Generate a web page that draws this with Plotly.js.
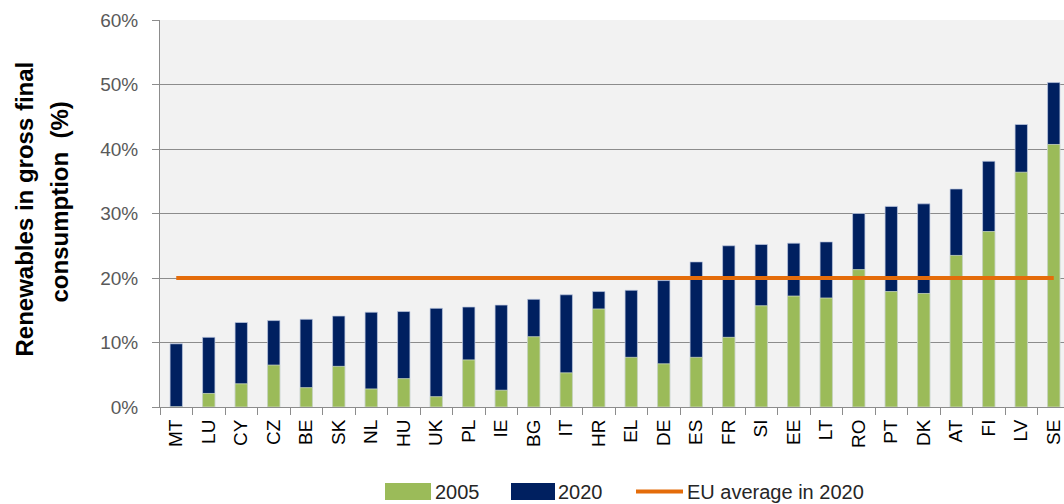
<!DOCTYPE html>
<html>
<head>
<meta charset="utf-8">
<script src="https://cdn.plot.ly/plotly-3.0.1.min.js"></script>
<style>html,body{margin:0;padding:0;background:#fff;}#chart{width:1064px;height:504px;}</style>
</head>
<body>
<div id="chart"></div>
<script>
const countries = ['MT','LU','CY','CZ','BE','SK','NL','HU','UK','PL','IE','BG','IT','HR','EL','DE','ES','FR','SI','EE','LT','RO','PT','DK','AT','FI','LV','SE'];
const share2005 = [0, 2.1, 3.6, 6.5, 3.0, 6.3, 2.8, 4.4, 1.6, 7.3, 2.6, 10.9, 5.3, 15.2, 7.7, 6.7, 7.7, 10.8, 15.7, 17.2, 16.9, 21.3, 17.9, 17.6, 23.5, 27.2, 36.4, 40.7];
const share2020 = [9.8, 10.8, 13.1, 13.4, 13.6, 14.1, 14.7, 14.8, 15.3, 15.5, 15.8, 16.7, 17.4, 17.9, 18.1, 19.6, 22.5, 25.0, 25.2, 25.4, 25.6, 30.0, 31.1, 31.5, 33.8, 38.1, 43.8, 50.3];
const euAverage2020 = 20;
const yTicks = [0, 10, 20, 30, 40, 50, 60];
const legendLabels = ['2005', '2020', 'EU average in 2020'];
const yTitleLines = ['Renewables in gross final', 'consumption&nbsp; (%)'];

const GREEN = '#9BBB59', NAVY = '#002060', ORANGE = '#E46C0A';
const FONT = '"Liberation Sans", Arial, sans-serif';

const traces = [
  {type: 'bar', name: legendLabels[1], x: countries, y: share2020, width: 0.38,
   marker: {color: NAVY, line: {color: 'rgba(190,200,225,0.9)', width: 0.8}}, showlegend: false},
  {type: 'bar', name: legendLabels[0], x: countries, y: share2005, width: 0.38,
   marker: {color: GREEN, line: {color: 'rgba(215,225,200,0.9)', width: 0.8}}, showlegend: false},
  {type: 'scatter', mode: 'lines', name: legendLabels[2], x: countries,
   y: countries.map(() => euAverage2020),
   line: {color: ORANGE, width: 4}, showlegend: false}
];

// helpers for paper coordinates (plot area: left 160, width 904, top 20, height 387)
const L = 160, W = 904, T = 20, H = 387;
const px = v => (v - L) / W;
const py = v => (T + H - v) / H;

const shapes = [
  {type: 'rect', xref: 'paper', yref: 'paper', x0: px(385), x1: px(431), y0: py(500), y1: py(483), fillcolor: GREEN, line: {width: 0}},
  {type: 'rect', xref: 'paper', yref: 'paper', x0: px(511), x1: px(555), y0: py(500), y1: py(483), fillcolor: NAVY, line: {width: 0}},
  {type: 'line', xref: 'paper', yref: 'paper', x0: px(636), x1: px(683), y0: py(491.5), y1: py(491.5), line: {color: ORANGE, width: 4}}
];

const annotations = [
  {xref: 'paper', yref: 'paper', x: px(433), y: py(491.5), xanchor: 'left', yanchor: 'middle', showarrow: false, text: legendLabels[0], font: {family: FONT, size: 20, color: '#262626'}},
  {xref: 'paper', yref: 'paper', x: px(556), y: py(491.5), xanchor: 'left', yanchor: 'middle', showarrow: false, text: legendLabels[1], font: {family: FONT, size: 20, color: '#262626'}},
  {xref: 'paper', yref: 'paper', x: px(685), y: py(491.5), xanchor: 'left', yanchor: 'middle', showarrow: false, text: legendLabels[2], font: {family: FONT, size: 20, color: '#262626'}},
  {xref: 'paper', yref: 'paper', x: px(23.5), y: py(209), xanchor: 'center', yanchor: 'middle', textangle: -90, showarrow: false, text: '<b>' + yTitleLines[0] + '</b>', font: {family: FONT, size: 24, color: '#000'}},
  {xref: 'paper', yref: 'paper', x: px(59), y: py(202.5), xanchor: 'center', yanchor: 'middle', textangle: -90, showarrow: false, text: '<b>' + yTitleLines[1] + '</b>', font: {family: FONT, size: 24, color: '#000'}}
];

const layout = {
  width: 1064, height: 504,
  margin: {l: L, r: 0, t: T, b: 504 - T - H, pad: 0},
  paper_bgcolor: '#ffffff',
  plot_bgcolor: '#F2F2F2',
  barmode: 'overlay',
  showlegend: false,
  font: {family: FONT},
  xaxis: {
    type: 'category', range: [-0.5, 27.315],
    showgrid: false, showline: true, linecolor: '#8C8C8C', linewidth: 1,
    ticks: 'outside', tickson: 'boundaries', ticklen: 7, tickcolor: '#8C8C8C',
    tickangle: -90, ticklabelstandoff: 4,
    tickfont: {family: FONT, size: 19, color: '#000'},
    zeroline: false
  },
  yaxis: {
    range: [0, 60], tickvals: yTicks, ticktext: yTicks.map(v => v + '%'),
    showgrid: true, gridcolor: '#8C8C8C', gridwidth: 1,
    showline: true, linecolor: '#8C8C8C', linewidth: 1,
    ticks: 'outside', ticklen: 7, tickcolor: '#8C8C8C',
    ticklabelstandoff: 10,
    tickfont: {family: FONT, size: 19, color: '#595959'},
    zeroline: false
  },
  shapes: shapes,
  annotations: annotations
};

Plotly.newPlot('chart', traces, layout, {displayModeBar: false, staticPlot: true});
</script>
</body>
</html>
